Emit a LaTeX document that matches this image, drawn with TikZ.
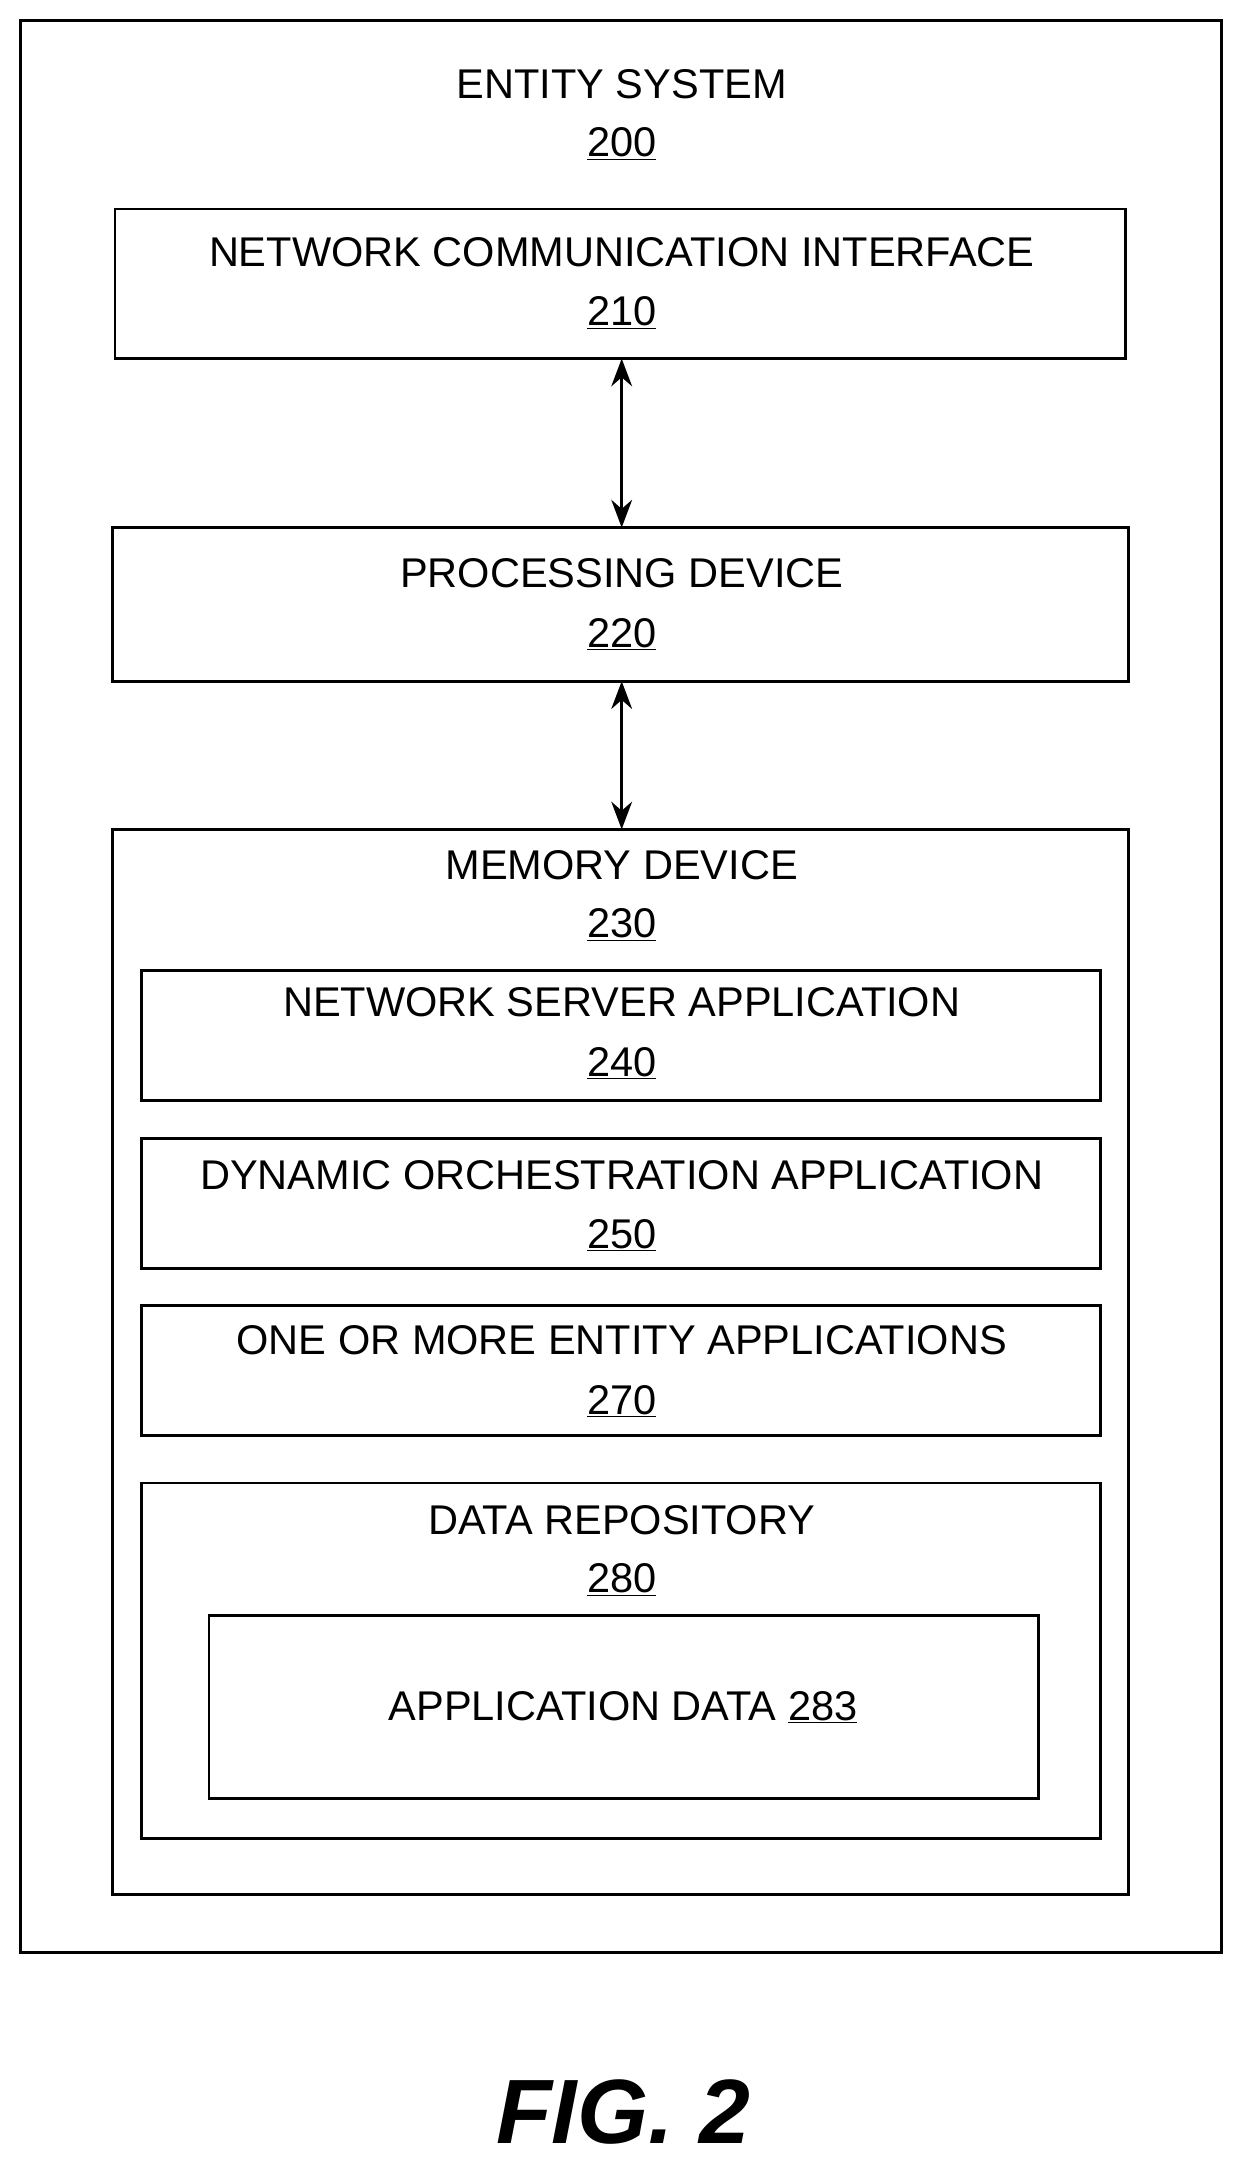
\documentclass[tikz,border=0pt]{standalone}
\usepackage{fontspec}
\setmainfont{Liberation Sans}
\usetikzlibrary{arrows.meta}
\begin{document}
\begin{tikzpicture}[x=1pt,y=-1pt,
 box/.style={draw,line width=2pt},
 lab/.style={font=\fontsize{30}{33}\selectfont,inner sep=0},
 arr/.style={line width=2pt,{Stealth[length=20pt,width=15pt]}-{Stealth[length=20pt,width=15pt]}}]
\useasboundingbox (0,0) rectangle (900,1573);
\draw[box] (15,15) rectangle (882,1410);
\node[lab] (t0) at (449,61) {ENTITY SYSTEM};
\node[lab] (n0) at (449,104) {\underline{200}};
\draw[box] (83,151) rectangle (813,259);
\coordinate (nciB) at (449,259);
\node[lab] at (449,182) {NETWORK COMMUNICATION INTERFACE};
\node[lab] at (449,226) {\underline{210}};
\draw[box] (81,381) rectangle (815,492);
\coordinate (pdT) at (449,381); \coordinate (pdB) at (449,492);
\node[lab] at (449,414) {PROCESSING DEVICE};
\node[lab] at (449,458) {\underline{220}};
\draw[box] (81,599) rectangle (815,1368);
\coordinate (mdT) at (449,599);
\node[lab] at (449,625) {MEMORY DEVICE};
\node[lab] at (449,668) {\underline{230}};
\draw[box] (102,701) rectangle (795,795);
\node[lab] at (449,724) {NETWORK SERVER APPLICATION};
\node[lab] at (449,768) {\underline{240}};
\draw[box] (102,822) rectangle (795,916);
\node[lab] at (449,849) {DYNAMIC ORCHESTRATION APPLICATION};
\node[lab] at (449,892) {\underline{250}};
\draw[box] (102,943) rectangle (795,1037);
\node[lab] at (449,968) {ONE OR MORE ENTITY APPLICATIONS};
\node[lab] at (449,1012) {\underline{270}};
\draw[box] (102,1071) rectangle (795,1328);
\node[lab] at (449,1098) {DATA REPOSITORY};
\node[lab] at (449,1141) {\underline{280}};
\draw[box] (151,1167) rectangle (750,1299);
\node[lab] at (450,1233) {APPLICATION DATA \underline{283}};
\draw[arr] (nciB) -- (pdT);
\draw[arr] (pdB) -- (mdT);
\node[inner sep=0,font=\fontsize{66}{70}\selectfont\bfseries\itshape] at (450,1525) {FIG. 2};
\end{tikzpicture}
\end{document}
